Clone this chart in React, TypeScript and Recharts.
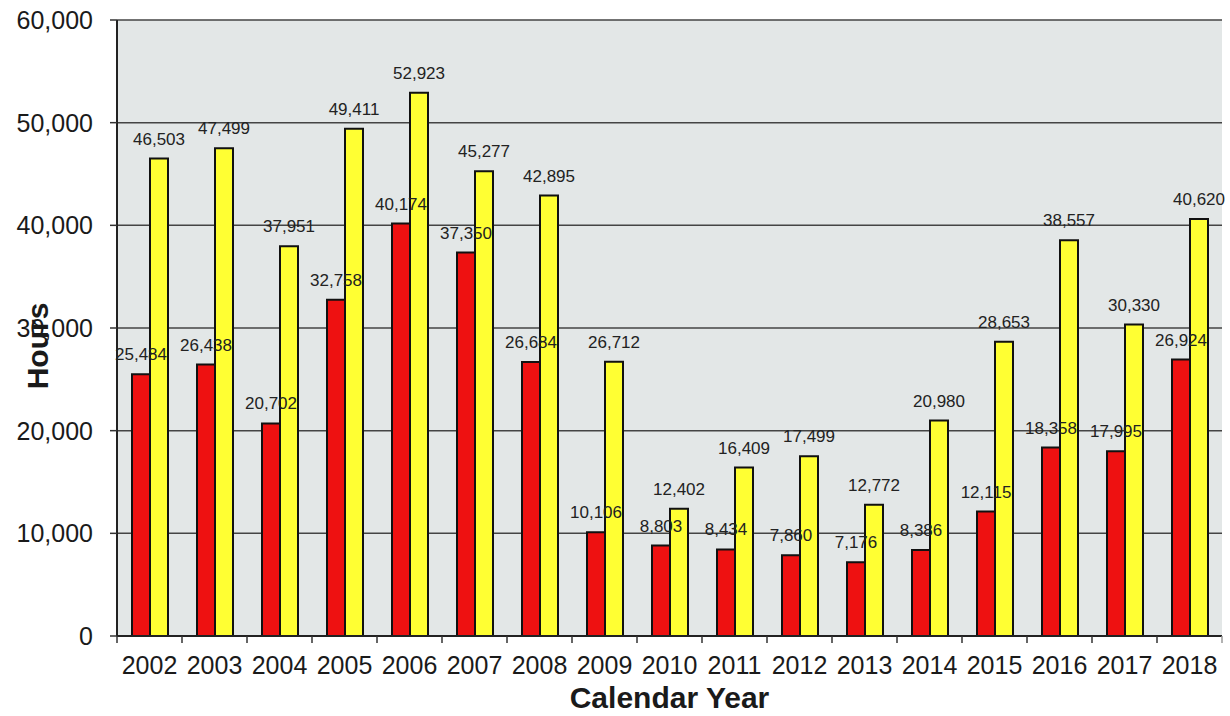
import React from 'react';
import { BarChart, Bar, XAxis, YAxis, CartesianGrid, LabelList } from 'recharts';

const YEARS = ['2002', '2003', '2004', '2005', '2006', '2007', '2008', '2009', '2010', '2011', '2012', '2013', '2014', '2015', '2016', '2017', '2018'];
const RED_HOURS = [25484, 26438, 20702, 32758, 40174, 37350, 26684, 10106, 8803, 8434, 7860, 7176, 8386, 12115, 18358, 17995, 26924];
const YELLOW_HOURS = [46503, 47499, 37951, 49411, 52923, 45277, 42895, 26712, 12402, 16409, 17499, 12772, 20980, 28653, 38557, 30330, 40620];
const Y_TICKS = [0, 10000, 20000, 30000, 40000, 50000, 60000];

const data = YEARS.map((year, i) => ({ year, red: RED_HOURS[i], yellow: YELLOW_HOURS[i] }));

const W = 1230;
const H = 716;
const LEFT = 117;
const RIGHT = 8;
const BAND = (W - LEFT - RIGHT) / YEARS.length;
const FONT = '"Liberation Sans", Arial, sans-serif';

const fmt = (v: number) => v.toLocaleString('en-US');

function YearTick(props: any) {
  const { x, y, payload, index } = props;
  const last = index === YEARS.length - 1;
  return (
    <g>
      <line x1={x - BAND / 2} x2={x - BAND / 2} y1={y} y2={y + 7} stroke="#333" strokeWidth={1.5} />
      {last && <line x1={x + BAND / 2} x2={x + BAND / 2} y1={y} y2={y + 7} stroke="#999" strokeWidth={1.5} />}
      <text x={x} y={y + 38} textAnchor="middle" fontSize={25} fill="#1a1a1a" fontFamily={FONT}>
        {payload.value}
      </text>
    </g>
  );
}

export default function App() {
  return (
    <div style={{ position: 'absolute', left: 0, top: 0, background: '#fff' }}>
      <BarChart width={W} height={H} data={data} margin={{ top: 20, right: RIGHT, left: 0, bottom: 0 }} barGap={0} barSize={18}>
        <CartesianGrid vertical={false} fill="#e3e7e7" stroke="#444" strokeWidth={1.5} />
        <XAxis
          dataKey="year"
          height={80}
          interval={0}
          tickLine={false}
          tickSize={0}
          tickMargin={0}
          axisLine={{ stroke: '#222', strokeWidth: 2 }}
          tick={<YearTick />}
          label={{
            content: (p: any) => (
              <text
                x={p.viewBox.x + p.viewBox.width / 2}
                y={p.viewBox.y + 72}
                textAnchor="middle"
                fontSize={30}
                fontWeight="bold"
                fill="#1a1a1a"
                fontFamily={FONT}
              >
                Calendar Year
              </text>
            ),
          }}
        />
        <YAxis
          width={LEFT}
          domain={[0, 60000]}
          ticks={Y_TICKS}
          interval={0}
          tickFormatter={fmt}
          tickSize={7}
          tickMargin={17}
          tickLine={{ stroke: '#333', strokeWidth: 1.5 }}
          axisLine={{ stroke: '#222', strokeWidth: 2 }}
          tick={{ fontSize: 25, fill: '#1a1a1a', fontFamily: FONT }}
          label={{
            content: (p: any) => {
              const cx = 37;
              const cy = p.viewBox.y + p.viewBox.height / 2 + 18;
              return (
                <text
                  x={cx}
                  y={cy}
                  transform={`rotate(-90 ${cx} ${cy})`}
                  textAnchor="middle"
                  dominantBaseline="central"
                  fontSize={30}
                  fontWeight="bold"
                  fill="#1a1a1a"
                  fontFamily={FONT}
                >
                  Hours
                </text>
              );
            },
          }}
        />
        <YAxis yAxisId="frame" orientation="right" width={0} tick={false} tickLine={false} axisLine={{ stroke: '#999', strokeWidth: 1.5 }} />
        <Bar dataKey="red" fill="#ee1111" stroke="#111" strokeWidth={2} isAnimationActive={false}>
          <LabelList dataKey="red" position="top" offset={14} formatter={fmt as any} style={{ fontSize: 17, fill: '#222', fontFamily: FONT }} />
        </Bar>
        <Bar dataKey="yellow" fill="#ffff33" stroke="#111" strokeWidth={2} isAnimationActive={false}>
          <LabelList dataKey="yellow" position="top" offset={14} formatter={fmt as any} style={{ fontSize: 17, fill: '#222', fontFamily: FONT }} />
        </Bar>
      </BarChart>
    </div>
  );
}
